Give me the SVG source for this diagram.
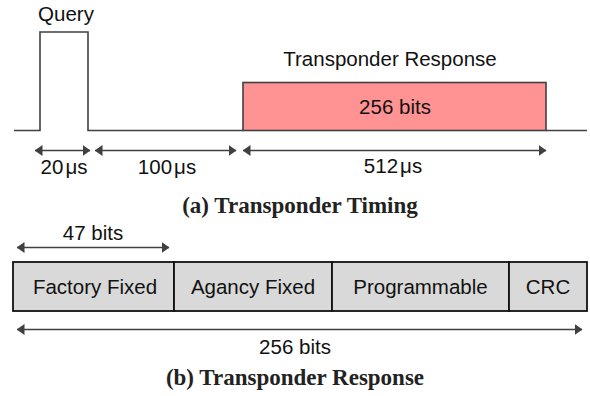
<svg xmlns="http://www.w3.org/2000/svg" width="590" height="396" viewBox="0 0 590 396">
  <defs>
    <marker id="ah" viewBox="0 0 8 11" refX="7.5" refY="5.5" markerWidth="8" markerHeight="11" markerUnits="userSpaceOnUse" orient="auto-start-reverse">
      <path d="M0,0 L8,5.5 L0,11 z" fill="#404040"/>
    </marker>
    <style>
      .sig { fill: none; stroke: #404040; stroke-width: 1.6; }
      .dim { fill: none; stroke: #404040; stroke-width: 1.6; marker-start: url(#ah); marker-end: url(#ah); }
      .lbl { font-family: "Liberation Sans", Arial, sans-serif; font-size: 20.5px; fill: #111; text-anchor: middle; }
      .cap { font-family: "Liberation Serif", "Times New Roman", serif; font-size: 23px; font-weight: bold; fill: #222; text-anchor: middle; }
      .fld { fill: #d9d9d9; stroke: #111; stroke-width: 1.8; }
    </style>
  </defs>

  <!-- (a) timing waveform -->
  <g id="waveform">
    <polyline class="sig" points="14,130.5 40,130.5 40,32 88,32 88,130.5 243,130.5"/>
    <line class="sig" x1="546" y1="130.5" x2="587" y2="130.5"/>
    <text class="lbl" x="66" y="21">Query</text>
  </g>

  <g id="response">
    <rect x="243" y="82.5" width="303" height="48" fill="#ff9393" stroke="#404040" stroke-width="1.6"/>
    <text class="lbl" x="395" y="114">256 bits</text>
    <text class="lbl" x="390" y="66">Transponder Response</text>
  </g>

  <g id="connectors">
    <line class="dim" x1="35" y1="150.5" x2="90" y2="150.5"/>
    <line class="dim" x1="95" y1="150.5" x2="236" y2="150.5"/>
    <line class="dim" x1="243" y1="150.5" x2="546" y2="150.5"/>
    <line class="dim" x1="17" y1="247.5" x2="169" y2="247.5"/>
    <line class="dim" x1="17" y1="329.5" x2="582" y2="329.5"/>
  </g>

  <g id="timing-labels">
    <text class="lbl" x="64" y="174">20<tspan dx="2">μs</tspan></text>
    <text class="lbl" x="167" y="174">100<tspan dx="2">μs</tspan></text>
    <text class="lbl" x="393" y="173">512<tspan dx="2">μs</tspan></text>
    <text class="cap" x="300" y="213">(a) Transponder Timing</text>
  </g>

  <!-- (b) response fields -->
  <g id="field-factory">
    <rect class="fld" x="13" y="262" width="161" height="49"/>
    <text class="lbl" x="95" y="294">Factory Fixed</text>
  </g>
  <g id="field-agency">
    <rect class="fld" x="174" y="262" width="158" height="49"/>
    <text class="lbl" x="253" y="294">Agancy Fixed</text>
  </g>
  <g id="field-programmable">
    <rect class="fld" x="332" y="262" width="177" height="49"/>
    <text class="lbl" x="420.5" y="294">Programmable</text>
  </g>
  <g id="field-crc">
    <rect class="fld" x="509" y="262" width="78" height="49"/>
    <text class="lbl" x="548" y="294">CRC</text>
  </g>

  <g id="response-labels">
    <text class="lbl" x="93" y="240">47 bits</text>
    <text class="lbl" x="295" y="354">256 bits</text>
    <text class="cap" x="295" y="385">(b) Transponder Response</text>
  </g>
</svg>
